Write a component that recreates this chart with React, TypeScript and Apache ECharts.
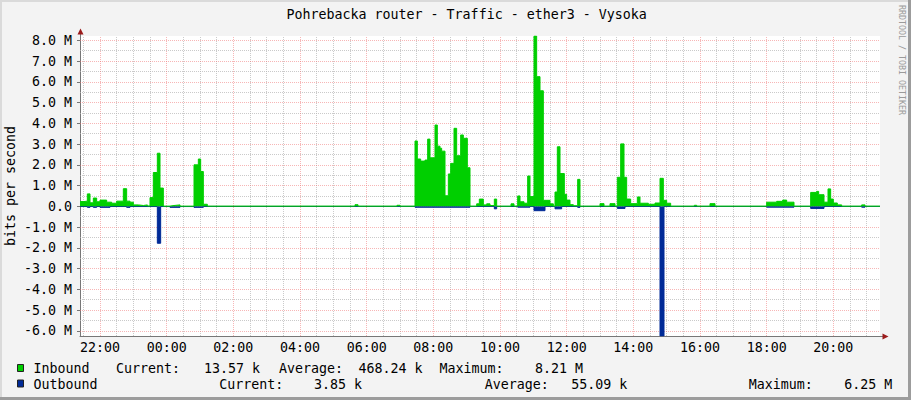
import React, { useEffect, useRef } from 'react';
import * as echarts from 'echarts';

// Time in hours (values > 24 belong to the next day); rates in Mbit/s
const inboundTimes = [
  21.4, 21.52, 21.62, 21.7, 21.8, 21.9, 22.0, 22.2, 22.35, 22.5, 22.7, 22.8, 22.9, 23.0, 23.15, 23.3, 23.42, 23.5, 23.6, 23.72, 23.8, 23.9, 24.1, 24.22, 24.4, 24.82, 24.95, 25.02, 25.1, 25.22,
  29.65, 29.74, 30.91, 31.0,
  31.45, 31.52, 31.62, 31.75, 31.83, 31.9, 32.05, 32.12, 32.2, 32.25, 32.35, 32.45, 32.52, 32.62, 32.7, 32.82, 32.9, 33.02, 33.1,
  33.3, 33.38, 33.5, 33.6, 33.7, 33.83, 33.9, 34.33, 34.42, 34.53, 34.6, 34.72, 34.83, 34.9, 35.02, 35.1, 35.2, 35.3, 35.5, 35.6, 35.65, 35.72, 35.8, 35.93, 36.0, 36.1, 36.2, 36.33, 36.4,
  37.0, 37.12, 37.3, 37.45, 37.52, 37.62, 37.72, 37.8, 37.92, 38.12, 38.2, 38.45, 38.65, 38.8, 38.9, 39.0, 39.12, 39.83, 39.9, 40.3, 40.45, 42.0, 42.3, 42.48, 42.6, 42.82, 43.32, 43.5, 43.56, 43.72, 43.84, 43.92, 44.0, 44.12, 44.25, 44.85, 44.95, 45.4,
];
const inboundValues = [
  0.23, 0.25, 0.6, 0.17, 0.4, 0.22, 0.3, 0.2, 0.15, 0.25, 0.85, 0.25, 0.2, 0.07, 0.04, 0.07, 0.02, 0.42, 1.63, 2.56, 0.88, 0.01, 0.04, 0.07, 0.01, 2.0, 2.28, 1.68, 0.1, 0.01,
  0.08, 0.01, 0.05, 0.01,
  3.15, 2.28, 2.18, 2.23, 3.24, 2.34, 3.92, 2.9, 2.8, 2.66, 0.51, 1.56, 2.07, 3.76, 2.44, 3.44, 3.28, 1.86, 0.01,
  0.12, 0.35, 0.07, 0.12, 0.04, 0.35, 0.01, 0.12, 0.01, 0.5, 0.22, 0.15, 1.46, 0.47, 8.21, 6.25, 5.57, 0.29, 0.12, 0.01, 0.69, 2.87, 1.58, 0.58, 0.3, 0.08, 0.03, 1.3, 0.01,
  0.13, 0.01, 0.13, 0.01, 1.4, 3.01, 1.4, 0.35, 0.13, 0.45, 0.15, 0.1, 0.16, 1.35, 0.29, 0.15, 0.01, 0.05, 0.01, 0.13, 0.01, 0.2, 0.24, 0.3, 0.2, 0.01, 0.67, 0.72, 0.56, 0.2, 0.84, 0.35, 0.16, 0.07, 0.01, 0.07, 0.01, 0.0136,
];
const outboundTimes = [
  21.4, 21.62, 21.7, 21.8, 21.9, 22.0, 22.3, 22.8, 22.9, 23.72, 23.82, 24.1, 24.4, 24.82, 25.1, 31.45, 33.1, 33.83, 33.9, 34.53, 34.9, 35.02, 35.35, 35.65, 35.85, 36.33, 36.4, 37.52, 37.75, 38.8, 38.92, 42.0, 42.82, 43.32, 43.72, 44.85, 44.95, 45.4,
];
const outboundValues = [
  -0.01, -0.05, -0.01, -0.05, -0.01, -0.05, -0.01, -0.05, -0.01, -1.78, -0.01, -0.05, -0.01, -0.05, -0.005, -0.045, -0.005, -0.12, -0.005, -0.04, -0.005, -0.21, -0.005, -0.12, -0.005, -0.05, -0.005, -0.1, -0.005, -6.25, -0.005, -0.04, -0.005, -0.1, -0.005, -0.04, -0.005, -0.00385,
];

const xMajorTicks = [22, 24, 26, 28, 30, 32, 34, 36, 38, 40, 42, 44];
const xMinorTicks = [21.5, 22.5, 23, 23.5, 24.5, 25, 25.5, 26.5, 27, 27.5, 28.5, 29, 29.5, 30.5, 31, 31.5, 32.5, 33, 33.5, 34.5, 35, 35.5, 36.5, 37, 37.5, 38.5, 39, 39.5, 40.5, 41, 41.5, 42.5, 43, 43.5, 44.5, 45];
const yMajorTicks = [-6, -5, -4, -3, -2, -1, 0, 1, 2, 3, 4, 5, 6, 7, 8];
const yMinorTicks = [-5.5, -4.5, -3.5, -2.5, -1.5, -0.5, 0.5, 1.5, 2.5, 3.5, 4.5, 5.5, 6.5, 7.5];

const legendRows = [
  { name: 'Inbound', color: '#00CF00', cur: '13.57 k', avg: '468.24 k', max: '8.21 M' },
  { name: 'Outbound', color: '#002A97', cur: '3.85 k', avg: '55.09 k', max: '6.25 M' },
];

const FONT = 'DejaVu Sans Mono';
const FS = 13.3;
const MAJOR = 'rgba(240,110,110,0.5)';
const MINOR = 'rgba(180,180,180,0.7)';

function text(x: number, y: number, s: string, extra: any = {}) {
  return {
    type: 'text',
    x,
    y,
    z: 20,
    ...extra,
    style: {
      text: s,
      fontFamily: FONT,
      fontSize: FS,
      fill: '#000',
      align: 'left',
      textAlign: 'left',
      verticalAlign: 'middle',
      textVerticalAlign: 'middle',
      ...(extra.style || {}),
    },
  };
}

export default function App() {
  const ref = useRef<HTMLDivElement>(null);
  useEffect(() => {
    if (!ref.current) return;
    const chart = echarts.init(ref.current, undefined, { renderer: 'svg' });
    const inboundData = inboundTimes.map((t, i) => [t, inboundValues[i]]);
    const outboundData = outboundTimes.map((t, i) => [t, outboundValues[i]]);

    const gridLines: any[] = [];
    xMinorTicks.forEach((v) => gridLines.push({ xAxis: v, lineStyle: { color: MINOR, type: [1, 1], width: 1 } }));
    yMinorTicks.forEach((v) => gridLines.push({ yAxis: v, lineStyle: { color: MINOR, type: [1, 1], width: 1 } }));
    xMajorTicks.forEach((v) => gridLines.push({ xAxis: v, lineStyle: { color: MAJOR, type: [1, 1], width: 1 } }));
    yMajorTicks.forEach((v) => gridLines.push({ yAxis: v, lineStyle: { color: MAJOR, type: [1, 1], width: 1 } }));

    const pos1 = { cur: 116, curV: 204, avg: 279, avgV: 358.5, max: 439.5, maxV: 535 };
    const pos2 = { cur: 219.2, curV: 314, avg: 484.8, avgV: 571.3, max: 748.8, maxV: 844.2 };
    const rowY = [368.5, 384];
    const graphics: any[] = [
      { type: 'rect', z: 15, shape: { x: 0, y: 0, width: 911, height: 2 }, style: { fill: '#DADADA' } },
      { type: 'rect', z: 15, shape: { x: 0, y: 0, width: 2, height: 400 }, style: { fill: '#DADADA' } },
      { type: 'rect', z: 15, shape: { x: 908, y: 0, width: 3, height: 400 }, style: { fill: '#9C9C9C' } },
      { type: 'rect', z: 15, shape: { x: 0, y: 397, width: 911, height: 3 }, style: { fill: '#9C9C9C' } },
      { type: 'line', z: 15, shape: { x1: 80.5, y1: 31, x2: 80.5, y2: 36 }, style: { stroke: '#777', lineWidth: 1 } },
      { type: 'line', z: 15, shape: { x1: 880, y1: 336.5, x2: 884, y2: 336.5 }, style: { stroke: '#777', lineWidth: 1 } },
      { type: 'polygon', z: 16, shape: { points: [[77.5, 34.5], [83.5, 34.5], [80.5, 28.5]] }, style: { fill: '#9B1B1B' } },
      { type: 'polygon', z: 16, shape: { points: [[882.5, 333.5], [882.5, 339.5], [888.5, 336.5]] }, style: { fill: '#9B1B1B' } },
      text(286.5, 14, 'Pohrebacka router - Traffic - ether3 - Vysoka'),
      text(10, 186, 'bits per second', { rotation: Math.PI / 2, style: { align: 'center', textAlign: 'center' } }),
      text(902, 60, 'RRDTOOL / TOBI OETIKER', { rotation: -Math.PI / 2, style: { align: 'center', textAlign: 'center', fontSize: 8.3, fill: '#9A9A9A' } }),
    ];
    legendRows.forEach((r, i) => {
      const p = i === 0 ? pos1 : pos2;
      const y = rowY[i];
      graphics.push({ type: 'rect', z: 20, shape: { x: 17.5, y: y - 4, width: 6, height: 7 }, style: { fill: r.color, stroke: '#222', lineWidth: 1 } });
      graphics.push(text(33.5, y, r.name));
      graphics.push(text(p.cur, y, 'Current:'));
      graphics.push(text(p.curV, y, r.cur));
      graphics.push(text(p.avg, y, 'Average:'));
      graphics.push(text(p.avgV, y, r.avg));
      graphics.push(text(p.max, y, 'Maximum:'));
      graphics.push(text(p.maxV, y, r.max));
    });

    chart.setOption({
      animation: false,
      backgroundColor: '#F3F3F3',
      textStyle: { fontFamily: FONT, fontSize: FS, color: '#000' },
      grid: {
        left: 80, top: 36, width: 800, height: 300,
        show: true, backgroundColor: '#FFFFFF', borderWidth: 0,
        containLabel: false, outerBoundsMode: 'none',
      },
      xAxis: {
        type: 'value', min: 21.4, max: 45.4, splitNumber: 12,
        axisLine: { show: true, onZero: false, lineStyle: { color: '#777', width: 1 } },
        axisTick: { show: false },
        splitLine: { show: false },
        minorTick: { show: false },
        axisLabel: {
          show: true, showMinLabel: false, showMaxLabel: false, margin: 5,
          color: '#000', fontFamily: FONT, fontSize: FS,
          formatter: (v: number) => String(Math.round(v) % 24).padStart(2, '0') + ':00',
        },
      },
      yAxis: {
        type: 'value', min: -6.25, max: 8.21, splitNumber: 14,
        axisLine: { show: true, onZero: false, lineStyle: { color: '#777', width: 1 } },
        axisTick: { show: true, length: 3, lineStyle: { color: '#777' } },
        splitLine: { show: false },
        axisLabel: {
          show: true, showMinLabel: false, showMaxLabel: false, margin: 8,
          color: '#000', fontFamily: FONT, fontSize: FS,
          formatter: (v: number) => (Math.abs(v) < 1e-9 ? '0.0' : v.toFixed(1) + ' M'),
        },
      },
      series: [
        {
          type: 'line', name: 'Outbound', data: outboundData, step: 'end', symbol: 'none',
          silent: true, z: 3,
          lineStyle: { color: '#002A97', width: 1 },
          areaStyle: { color: '#002A97', opacity: 1 },
          markLine: {
            silent: true, symbol: ['none', 'none'], label: { show: false }, z: 1,
            animation: false, emphasis: { disabled: true },
            data: gridLines,
          },
        },
        {
          type: 'line', name: 'Inbound', data: inboundData, step: 'end', symbol: 'none',
          silent: true, z: 4,
          lineStyle: { color: '#00CF00', width: 1 },
          areaStyle: { color: '#00CF00', opacity: 1 },
        },
      ],
      graphic: graphics,
    });
    return () => chart.dispose();
  }, []);
  return <div ref={ref} style={{ position: 'absolute', left: 0, top: 0, width: 911, height: 400 }} />;
}
